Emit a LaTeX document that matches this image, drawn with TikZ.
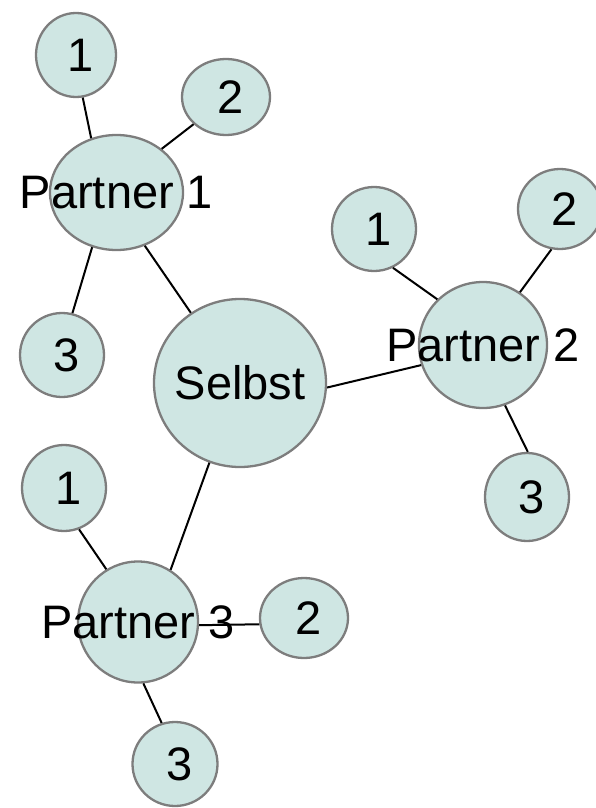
\documentclass[tikz,border=0pt]{standalone}
\usepackage{fontspec}
\setmainfont{Liberation Sans}
\usetikzlibrary{shapes.geometric}
\definecolor{kreisfarbe}{RGB}{207,230,227}
\definecolor{randfarbe}{RGB}{125,125,125}
\tikzset{>=latex}

\begin{document}
\begin{tikzpicture}[x=1pt, y=-1pt, font=\fontsize{47}{56}\selectfont,
    kreis/.style={ellipse, draw=randfarbe, line width=2.3pt, fill=kreisfarbe, inner sep=0pt},
    klein/.style={kreis, minimum width=84pt, minimum height=84pt, label={[xshift=5pt]center:#1}},
    linie/.style={draw, line width=2pt}]
      \useasboundingbox (0,0) rectangle (596,808);
      \clip (0,0) rectangle (596,808);
      % Mitte
      \node[kreis, minimum width=172pt, minimum height=168pt, label=center:Selbst] (selbst) at (240,383) {};
      % Partner 1
      \node[kreis, minimum width=133pt, minimum height=115pt, label=center:Partner 1] (partner1) at (116.5,192.5) {};
      \node[klein=1, minimum width=80pt] (p1eins) at (76,55) {};
      \node[klein=2, minimum width=88pt, minimum height=76pt] (p1zwei) at (226,97) {};
      \node[klein=3] (p1drei) at (62,355) {};
      % Partner 2
      \node[kreis, minimum width=128pt, minimum height=126pt, label=center:Partner 2] (partner2) at (483,345) {};
      \node[klein=1] (p2eins) at (374,229) {};
      \node[klein=2, minimum height=80pt] (p2zwei) at (560,209) {};
      \node[klein=3, minimum height=88pt] (p2drei) at (527,497) {};
      % Partner 3
      \node[kreis, minimum width=120pt, minimum height=121pt, label=center:Partner 3] (partner3) at (138,622) {};
      \node[klein=1, minimum height=86pt] (p3eins) at (64,488) {};
      \node[klein=2, minimum width=88pt, minimum height=80pt] (p3zwei) at (304,618) {};
      \node[klein=3, minimum width=85pt] (p3drei) at (175,764) {};
      % Verbindungen
      \draw[linie] (partner1.115) -- (p1eins.-81);
      \draw[linie] (partner1.44) -- (p1zwei.220);
      \draw[linie] (partner1.-114) -- (p1drei.76);
      \draw[linie] (partner1.-62) -- (selbst.125);
      \draw[linie] (selbst.-3) -- (partner2.198);
      \draw[linie] (partner2.135) -- (p2eins.-64);
      \draw[linie] (partner2.55) -- (p2zwei.-102);
      \draw[linie] (partner2.-70) -- (p2drei.89);
      \draw[linie] (selbst.-111) -- (partner3.58);
      \draw[linie] (partner3.121) -- (p3eins.-70);
      \draw[linie] (partner3.-3) -- (p3zwei.188);
      \draw[linie] (partner3.-85) -- (p3drei.108);
    \end{tikzpicture}
\end{document}
